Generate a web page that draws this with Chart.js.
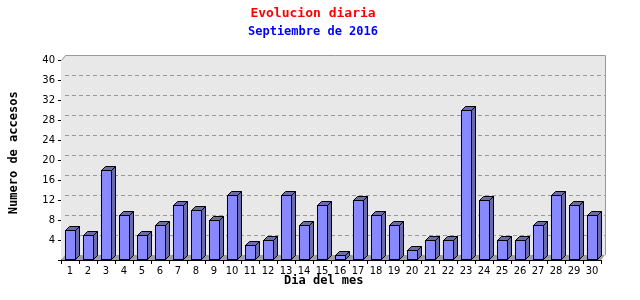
<!DOCTYPE html>
<html lang="es">

<head>
    <meta charset="UTF-8">
    <title>Evolucion diaria</title>
    <script src="https://cdn.jsdelivr.net/npm/chart.js"></script>
    <style>
        body { margin: 0; background: #fff; }
        #wrap { width: 640px; height: 300px; }
    </style>
</head>

<body>
    <div id="wrap">
        <canvas id="accesos"></canvas>
    </div>

    <script>
        // datos del mes
        const dias = ['1','2','3','4','5','6','7','8','9','10','11','12','13','14','15',
                      '16','17','18','19','20','21','22','23','24','25','26','27','28','29','30'];
        const accesos = [6, 5, 18, 9, 5, 7, 11, 10, 8, 13, 3, 4, 13, 7, 11,
                         1, 12, 9, 7, 2, 4, 4, 30, 12, 4, 4, 7, 13, 11, 9];
        const yTicks = [4, 8, 12, 16, 20, 24, 28, 32, 36, 40];

        const DX = 4, DY = 5;   // profundidad 3D
        const mono = "'DejaVu Sans Mono', monospace";

        // fondo, rejilla y suelo en el plano trasero
        const fondo3d = {
            id: 'fondo3d',
            beforeDatasetsDraw(chart) {
                const { ctx, chartArea: a, scales: { y } } = chart;
                ctx.save();
                // plano lateral izquierdo
                ctx.fillStyle = '#e8e8e8';
                ctx.beginPath();
                ctx.moveTo(a.left, a.top); ctx.lineTo(a.left + DX, a.top - DY);
                ctx.lineTo(a.left + DX, a.bottom - DY); ctx.lineTo(a.left, a.bottom);
                ctx.fill();
                // plano trasero
                ctx.fillRect(a.left + DX, a.top - DY, a.right - a.left, a.bottom - a.top);
                ctx.strokeStyle = '#999';
                ctx.lineWidth = 1;
                ctx.beginPath();
                ctx.moveTo(a.left + DX + 0.5, a.top - DY + 0.5);
                ctx.lineTo(a.right + DX + 0.5, a.top - DY + 0.5);
                ctx.lineTo(a.right + DX + 0.5, a.bottom - DY);
                ctx.stroke();
                ctx.beginPath();
                ctx.moveTo(a.left + 0.5, a.top + 0.5);
                ctx.lineTo(a.left + DX + 0.5, a.top - DY + 0.5);
                ctx.stroke();
                // rejilla discontinua
                ctx.setLineDash([4, 3]);
                ctx.strokeStyle = '#999';
                yTicks.forEach(v => {
                    if (v >= 40) return;
                    const py = Math.round(y.getPixelForValue(v) - DY) + 0.5;
                    ctx.beginPath();
                    ctx.moveTo(a.left + DX, py);
                    ctx.lineTo(a.right + DX, py);
                    ctx.stroke();
                });
                ctx.setLineDash([]);
                // suelo
                ctx.fillStyle = '#a0a0a0';
                ctx.beginPath();
                ctx.moveTo(a.left, a.bottom); ctx.lineTo(a.left + DX, a.bottom - DY);
                ctx.lineTo(a.right + DX, a.bottom - DY); ctx.lineTo(a.right, a.bottom);
                ctx.fill();
                ctx.restore();
            }
        };

        // caras superior y lateral de cada barra
        const barras3d = {
            id: 'barras3d',
            afterDatasetsDraw(chart) {
                const { ctx } = chart;
                const d = 4;
                ctx.save();
                ctx.fillStyle = '#6b6ba8';
                ctx.strokeStyle = '#000';
                ctx.lineWidth = 1;
                chart.getDatasetMeta(0).data.forEach(bar => {
                    const l = Math.round(bar.x - bar.width / 2) + 0.5;
                    const r = Math.round(bar.x + bar.width / 2) + 0.5;
                    const t = Math.round(bar.y) + 0.5;
                    const b = Math.round(bar.base) - 0.5;
                    // cara superior
                    ctx.beginPath();
                    ctx.moveTo(l, t); ctx.lineTo(l + d, t - d);
                    ctx.lineTo(r + d, t - d); ctx.lineTo(r, t);
                    ctx.closePath(); ctx.fill(); ctx.stroke();
                    // cara lateral
                    ctx.beginPath();
                    ctx.moveTo(r, t); ctx.lineTo(r + d, t - d);
                    ctx.lineTo(r + d, b - d); ctx.lineTo(r, b);
                    ctx.closePath(); ctx.fill(); ctx.stroke();
                    // frente
                    ctx.strokeRect(l, t, r - l, b - t);
                });
                ctx.restore();
            }
        };

        const ctx = document.getElementById('accesos').getContext('2d');
        const chart = new Chart(ctx, {
            type: 'bar',
            data: {
                labels: dias,
                datasets: [{
                    label: 'Accesos',
                    data: accesos,
                    backgroundColor: '#8888ff',
                    borderWidth: 0,
                    categoryPercentage: 1,
                    barPercentage: 0.56
                }]
            },
            plugins: [fondo3d, barras3d],
            options: {
                responsive: true,
                maintainAspectRatio: false,
                animation: false,
                layout: { padding: { left: 0, right: 14, top: 0, bottom: 0 } },
                plugins: {
                    legend: { display: false },
                    tooltip: { enabled: false },
                    title: {
                        display: true,
                        text: 'Evolucion diaria',
                        color: '#ff0000',
                        font: { family: mono, size: 13, weight: 'bold', lineHeight: 1.2 },
                        padding: { top: 6, bottom: 0 }
                    },
                    subtitle: {
                        display: true,
                        text: 'Septiembre de 2016',
                        color: '#0000ff',
                        font: { family: mono, size: 12, weight: 'bold', lineHeight: 1.2 },
                        padding: { top: 3, bottom: 21 }
                    }
                },
                scales: {
                    x: {
                        offset: true,
                        grid: {
                            offset: true,
                            drawOnChartArea: false,
                            color: '#000',
                            tickLength: 4
                        },
                        border: { color: '#000' },
                        ticks: {
                            color: '#000',
                            padding: 1,
                            maxRotation: 0,
                            autoSkip: false,
                            font: { family: "'DejaVu Sans', sans-serif", size: 10 }
                        },
                        title: {
                            display: true,
                            text: 'Dia del mes  ',
                            color: '#000',
                            font: { family: mono, size: 12, weight: 'bold', lineHeight: 1.2 },
                            padding: { top: 0, bottom: 12 }
                        },
                        afterFit(scale) { scale.height = 40; }
                    },
                    y: {
                        min: 0,
                        max: 40,
                        grid: {
                            drawOnChartArea: false,
                            color: '#000',
                            tickLength: 3
                        },
                        border: { color: '#000' },
                        ticks: {
                            stepSize: 4,
                            color: '#000',
                            padding: 3,
                            font: { family: "'DejaVu Sans', sans-serif", size: 10 },
                            callback: v => (yTicks.includes(v) ? v : '')
                        },
                        title: {
                            display: true,
                            text: '  Numero de accesos',
                            color: '#000',
                            font: { family: mono, size: 12, weight: 'bold', lineHeight: 1.2 },
                            padding: { top: 7, bottom: 0 }
                        },
                        afterFit(scale) { scale.width = 61; }
                    },
                    // eje derecho vacio: solo reserva el margen
                    margen: {
                        position: 'right',
                        display: true,
                        grid: { display: false },
                        border: { display: false },
                        ticks: { display: false },
                        afterFit(scale) { scale.width = 25; }
                    }
                }
            }
        });
    </script>
</body>

</html>
